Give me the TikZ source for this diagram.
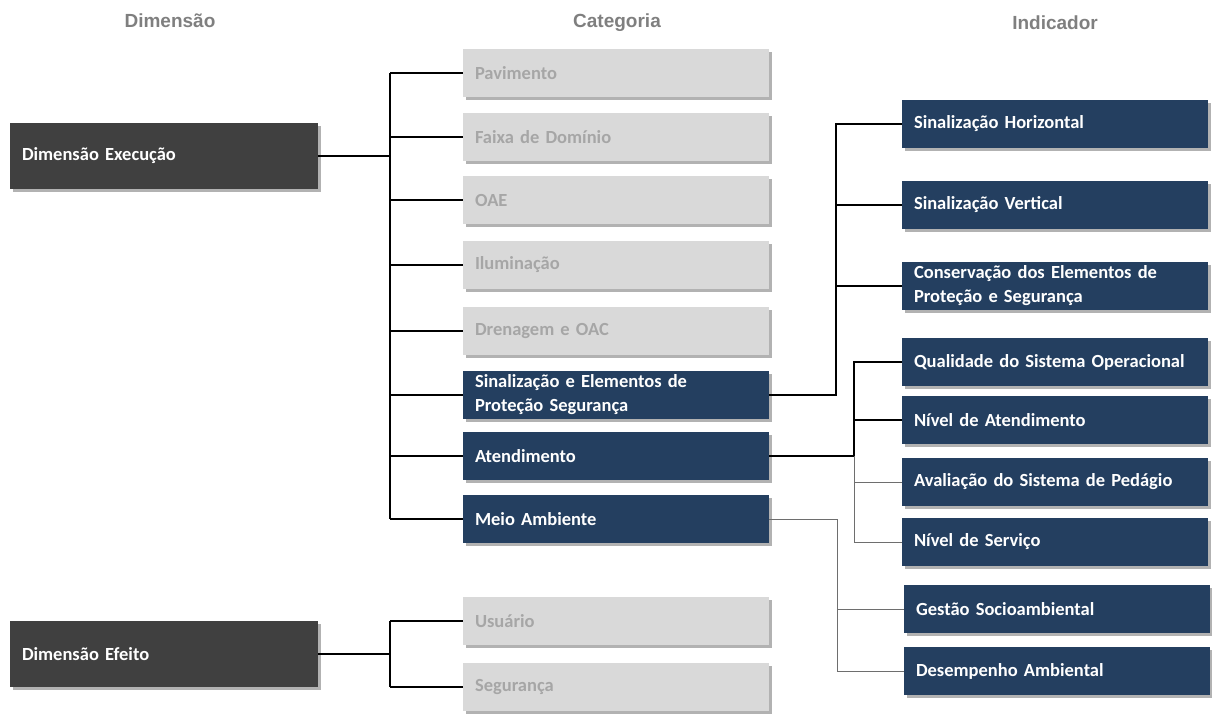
\documentclass[tikz,border=0pt]{standalone}
\usepackage{fontspec}
\usepackage{xcolor}
\usepackage{tikz}
\usetikzlibrary{positioning,shadows}

\newfontfamily\boxfont{Carlito}
\newfontfamily\headfont{Liberation Sans}
\definecolor{dimgray}{HTML}{404040}
\definecolor{boxnavy}{HTML}{243F60}
\definecolor{lightbox}{HTML}{D9D9D9}
\definecolor{lighttext}{HTML}{A6A6A6}
\definecolor{headgray}{HTML}{7F7F7F}
\definecolor{thinline}{HTML}{6E6E6E}

\begin{document}
\begin{tikzpicture}[x=1pt, y=-1pt,
  box/.style={minimum height=48pt, text width=282pt, inner xsep=12pt,
    inner ysep=0pt, align=left,
    font=\boxfont\bfseries\fontsize{18.5}{24}\selectfont,
    drop shadow={shadow xshift=2.5pt, shadow yshift=-3pt, opacity=0.3, fill=black}},
  catbox/.style={box, fill=lightbox, text=lighttext},
  indbox/.style={box, fill=boxnavy, text=white},
  dimbox/.style={box, fill=dimgray, text=white, minimum height=66pt, text width=284pt},
  head/.style={font=\headfont\bfseries\fontsize{19}{22}\selectfont, text=headgray},
  link/.style={line width=1.6pt, black},
  faint/.style={line width=0.9pt, thinline}]
  \useasboundingbox (0,0) rectangle (1212,713);

  \node[head] (hdim) at (170,21) {Dimensão};
  \node[head] (hcat) at (617,23) {Categoria};
  \node[head] (hind) at (1055,23) {Indicador};

  \node[dimbox] (exec)   at (164,156) {Dimensão Execução};
  \node[dimbox] (efeito) at (164,654) {Dimensão Efeito};

  \node[catbox] (pav)   at (616,73)  {Pavimento};
  \node[catbox] (faixa) at (616,137) {Faixa de Domínio};
  \node[catbox] (oae)   at (616,200) {OAE};
  \node[catbox] (ilum)  at (616,265) {Iluminação};
  \node[catbox] (dren)  at (616,331) {Drenagem e OAC};
  \node[indbox] (sinal) at (616,395) {Sinalização e Elementos de\\Proteção Segurança};
  \node[indbox] (atend) at (616,456) {Atendimento};
  \node[indbox] (meio)  at (616,519) {Meio Ambiente};
  \node[catbox] (usu)   at (616,621) {Usuário};
  \node[catbox] (seg)   at (616,687) {Segurança};

  \node[indbox] (horiz)  at (1055,124) {Sinalização Horizontal};
  \node[indbox] (vert)   at (1055,205) {Sinalização Vertical};
  \node[indbox] (cons)   at (1055,286) {Conservação dos Elementos de\\Proteção e Segurança};
  \node[indbox] (qual)   at (1055,362) {Qualidade do Sistema Operacional};
  \node[indbox] (nivat)  at (1055,420) {Nível de Atendimento};
  \node[indbox] (aval)   at (1055,482) {Avaliação do Sistema de Pedágio};
  \node[indbox] (serv)   at (1055,542) {Nível de Serviço};
  \node[indbox] (gestao) at (1057,609) {Gestão Socioambiental};
  \node[indbox] (desemp) at (1057,671) {Desempenho Ambiental};

  \coordinate (busA) at (390,0);
  \coordinate (busB) at (836,0);
  \coordinate (busC) at (854,0);
  \coordinate (busD) at (837,0);

  \draw[link] (exec.east) -- (exec.east -| busA);
  \draw[link] (pav.west -| busA) -- (meio.west -| busA);
  \foreach \n in {pav,faixa,oae,ilum,dren,sinal,atend,meio}
    \draw[link] (\n.west -| busA) -- (\n.west);

  \draw[link] (efeito.east) -- (efeito.east -| busA);
  \draw[link] (usu.west -| busA) -- (seg.west -| busA);
  \foreach \n in {usu,seg}
    \draw[link] (\n.west -| busA) -- (\n.west);

  \draw[link] (sinal.east) -- (sinal.east -| busB) |- (horiz.west);
  \foreach \n in {vert,cons}
    \draw[link] (\n.west -| busB) -- (\n.west);

  \draw[link] (atend.east) -- (atend.east -| busC) |- (qual.west);
  \draw[link] (nivat.west -| busC) -- (nivat.west);
  \draw[faint] (atend.east -| busC) |- (serv.west);
  \draw[faint] (aval.west -| busC) -- (aval.west);

  \draw[faint] (meio.east) -| (desemp.west -| busD) -- (desemp.west);
  \draw[faint] (gestao.west -| busD) -- (gestao.west);
\end{tikzpicture}
\end{document}
